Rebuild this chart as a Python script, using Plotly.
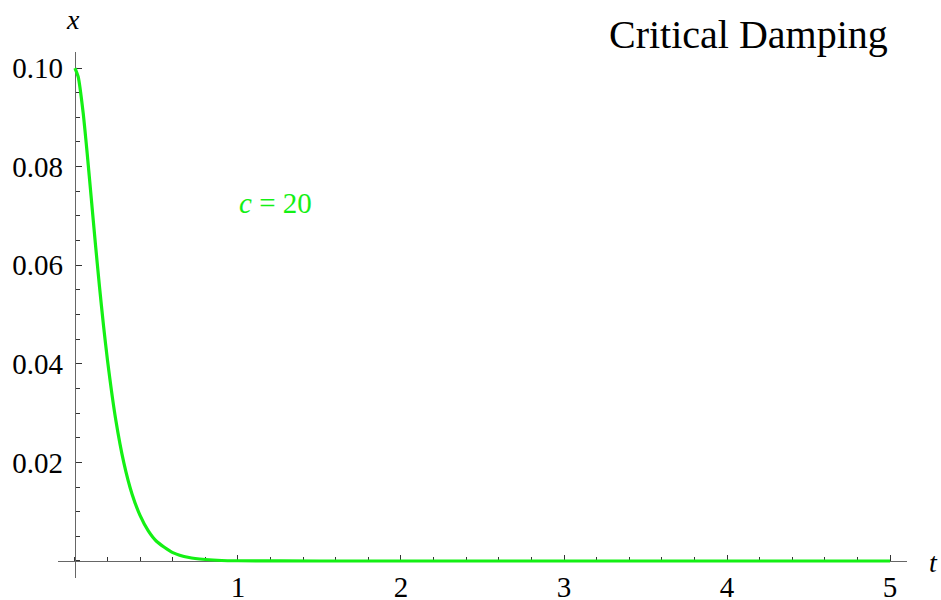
import plotly.graph_objects as go

# Displacement x(t)
t_vals = [0.0, 0.02, 0.05, 0.075, 0.1, 0.125, 0.15, 0.175, 0.2, 0.25, 0.3, 0.35,
          0.4, 0.45, 0.5, 0.6, 0.7, 0.8, 0.9, 1.0, 1.5, 2.0, 3.0, 4.0, 5.0]
x_vals = [0.1, 0.0982, 0.0910, 0.0827, 0.0736, 0.0645, 0.0558, 0.0478, 0.0406,
          0.0287, 0.0199, 0.0136, 0.0092, 0.0061, 0.0040, 0.0017, 0.0007, 0.0003,
          0.0001, 0.00005, 0.0, 0.0, 0.0, 0.0, 0.0]

x_ticks = [1, 2, 3, 4, 5]
y_ticks = [0.02, 0.04, 0.06, 0.08, 0.10]
y_tick_text = ["0.02", "0.04", "0.06", "0.08", "0.10"]

GREEN = "#14f014"
AXIS = "#666666"
FONT = "Liberation Serif, Times New Roman, serif"

fig = go.Figure()
fig.add_trace(go.Scatter(x=t_vals, y=x_vals, mode="lines",
                         line=dict(color=GREEN, width=3.2, shape="spline", smoothing=0.6),
                         hoverinfo="skip", showlegend=False, cliponaxis=False))

W, H = 941, 600
L, R, T, B = 58, 34, 52, 22
x_range = [-0.104, 5.104]
y_range = [-0.00345, 0.10325]
x_frac0 = (0 - x_range[0]) / (x_range[1] - x_range[0])
y_frac0 = (0 - y_range[0]) / (y_range[1] - y_range[0])

fig.update_layout(
    width=W, height=H,
    margin=dict(l=L, r=R, t=T, b=B, autoexpand=False),
    paper_bgcolor="white", plot_bgcolor="white",
    font=dict(family=FONT, size=29, color="black"),
    xaxis=dict(range=x_range, anchor="free", position=y_frac0, showgrid=False,
               zeroline=False, showline=True, linecolor=AXIS, linewidth=1.3,
               ticks="inside", tickvals=x_ticks, ticklen=6, tickcolor="#333",
               tickwidth=1, tickfont=dict(family=FONT, size=29), automargin=False,
               layer="below traces", ticklabelstandoff=0,
               minor=dict(dtick=0.2, ticks="inside", ticklen=4, tickcolor="#333",
                          showgrid=False),
               fixedrange=True),
    yaxis=dict(range=y_range, anchor="free", position=x_frac0, showgrid=False,
               zeroline=False, showline=True, linecolor=AXIS, linewidth=1.3,
               ticks="inside", tickvals=y_ticks, ticktext=y_tick_text, ticklen=6,
               tickcolor="#333", tickwidth=1, tickfont=dict(family=FONT, size=29),
               automargin=False, layer="below traces", ticklabelstandoff=6,
               minor=dict(dtick=0.005, ticks="inside", ticklen=4, tickcolor="#333",
                          showgrid=False),
               fixedrange=True),
    annotations=[
        dict(text="Critical Damping", xref="paper", yref="paper",
             x=(890 - L) / (W - L - R), y=1 + (T - 35) / (H - T - B),
             xanchor="right", yanchor="middle", showarrow=False,
             font=dict(family=FONT, size=40, color="black")),
        dict(text="<i>x</i>", xref="paper", yref="paper",
             x=(73 - L) / (W - L - R), y=1 + (T - 19) / (H - T - B),
             xanchor="center", yanchor="middle", showarrow=False,
             font=dict(family=FONT, size=28, color="black")),
        dict(text="<i>t</i>", xref="paper", yref="paper",
             x=(933 - L) / (W - L - R), y=(H - B - 562) / (H - T - B),
             xanchor="center", yanchor="middle", showarrow=False,
             font=dict(family=FONT, size=28, color="black")),
        dict(text="<i>c</i> = 20", xref="paper", yref="paper",
             x=(237 - L) / (W - L - R), y=(H - B - 203) / (H - T - B),
             xanchor="left", yanchor="middle", showarrow=False,
             font=dict(family=FONT, size=29, color=GREEN)),
    ],
)

fig.write_html("out.html", config={"displayModeBar": False},
               post_script="document.body.style.margin='0px';document.body.style.padding='0px';")
